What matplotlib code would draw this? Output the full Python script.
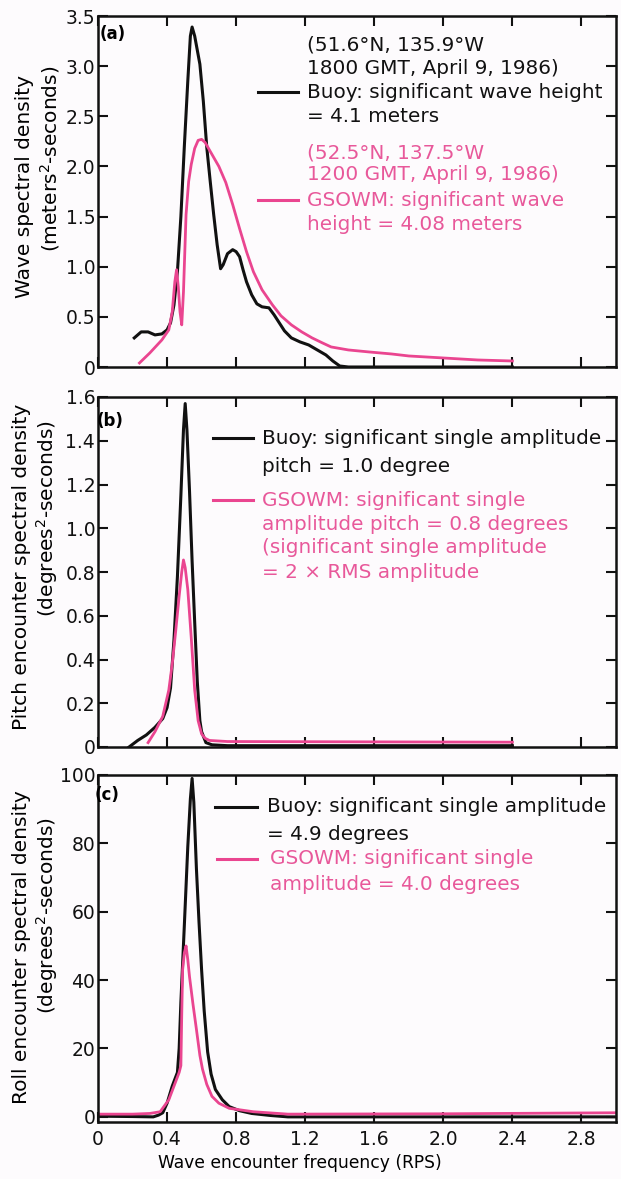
import numpy as np
import matplotlib
matplotlib.use('Agg')
import matplotlib.pyplot as plt
from matplotlib.lines import Line2D

plt.rcParams['font.family'] = ['DejaVu Sans']
plt.rcParams['font.size'] = 13

# ---- panel (a): wave spectral density ----
a_buoy_x = [0.21, 0.25, 0.29, 0.33, 0.37, 0.40, 0.42, 0.44, 0.46, 0.48, 0.50, 0.52, 0.535, 0.545,
            0.56, 0.59, 0.61, 0.63, 0.65, 0.67, 0.69, 0.71, 0.725, 0.75, 0.78, 0.80, 0.82, 0.84,
            0.86, 0.89, 0.92, 0.95, 0.99, 1.02, 1.05, 1.08, 1.12, 1.17, 1.22, 1.27, 1.32, 1.36,
            1.40, 1.45, 2.4]
a_buoy_y = [0.29, 0.35, 0.35, 0.32, 0.33, 0.37, 0.44, 0.62, 0.95, 1.5, 2.2, 2.85, 3.3, 3.39,
            3.3, 3.02, 2.65, 2.19, 1.85, 1.52, 1.22, 0.98, 1.02, 1.13, 1.17, 1.15, 1.10, 0.97,
            0.85, 0.72, 0.63, 0.60, 0.59, 0.52, 0.44, 0.36, 0.29, 0.25, 0.22, 0.17, 0.12, 0.06,
            0.01, 0.0, 0.0]
a_gsowm_x = [0.24, 0.30, 0.37, 0.41, 0.43, 0.445, 0.455, 0.465, 0.475, 0.485, 0.495, 0.51, 0.525,
             0.54, 0.56, 0.58, 0.60, 0.62, 0.66, 0.70, 0.74, 0.78, 0.82, 0.86, 0.90, 0.95, 1.01,
             1.06, 1.12, 1.18, 1.24, 1.30, 1.35, 1.45, 1.57, 1.7, 1.8, 2.0, 2.2, 2.4]
a_gsowm_y = [0.04, 0.14, 0.27, 0.37, 0.55, 0.85, 0.97, 0.80, 0.55, 0.42, 0.75, 1.52, 1.85,
             2.02, 2.18, 2.26, 2.27, 2.24, 2.12, 2.00, 1.84, 1.62, 1.38, 1.15, 0.95, 0.77, 0.62,
             0.51, 0.42, 0.35, 0.29, 0.24, 0.20, 0.17, 0.15, 0.13, 0.11, 0.09, 0.07, 0.06]

# ---- panel (b): pitch encounter spectral density ----
b_buoy_x = [0.18, 0.23, 0.28, 0.33, 0.375, 0.40, 0.42, 0.44, 0.46, 0.48, 0.495, 0.505, 0.515,
            0.53, 0.545, 0.56, 0.575, 0.59, 0.60, 0.625, 0.66, 0.75, 2.4]
b_buoy_y = [0.0, 0.03, 0.055, 0.09, 0.13, 0.18, 0.27, 0.49, 0.78, 1.15, 1.45, 1.57, 1.45,
            1.17, 0.85, 0.57, 0.30, 0.12, 0.07, 0.02, 0.01, 0.006, 0.006]
b_gsowm_x = [0.29, 0.33, 0.375, 0.41, 0.43, 0.45, 0.47, 0.485, 0.495, 0.505, 0.52, 0.54, 0.56,
             0.58, 0.60, 0.62, 0.645, 0.75, 2.4]
b_gsowm_y = [0.02, 0.07, 0.14, 0.26, 0.38, 0.53, 0.69, 0.80, 0.855, 0.82, 0.72, 0.50, 0.26,
             0.12, 0.06, 0.04, 0.03, 0.025, 0.022]

# ---- panel (c): roll encounter spectral density ----
c_buoy_x = [0.0, 0.2, 0.32, 0.35, 0.375, 0.40, 0.43, 0.46, 0.47, 0.48, 0.50, 0.52, 0.535, 0.545,
            0.555, 0.57, 0.585, 0.60, 0.615, 0.635, 0.655, 0.68, 0.72, 0.76, 0.82, 0.89, 1.0,
            1.1, 3.0]
c_buoy_y = [0.2, 0.1, 0.0, 0.5, 1.2, 4, 9, 13, 20, 33.5, 56, 79, 93, 99,
            92, 72.6, 57, 43, 31, 19, 12.5, 8, 5, 3, 1.8, 1, 0.4,
            0, 0]
c_gsowm_x = [0.0, 0.2, 0.3, 0.36, 0.41, 0.44, 0.47, 0.48, 0.485, 0.49, 0.50, 0.51, 0.52, 0.53,
             0.55, 0.57, 0.59, 0.605, 0.63, 0.66, 0.70, 0.76, 0.9, 1.1, 2.0, 3.0]
c_gsowm_y = [0.8, 0.8, 1.0, 1.5, 5, 9, 13, 15, 30, 43, 48, 50, 46, 41,
             33, 25.6, 18, 14, 9.5, 6, 4, 2.5, 1.5, 0.8, 0.9, 1.2]

x_ticks = [0, 0.4, 0.8, 1.2, 1.6, 2.0, 2.4, 2.8]
x_ticklabels = ['0', '0.4', '0.8', '1.2', '1.6', '2.0', '2.4', '2.8']
a_yticks = [0, 0.5, 1.0, 1.5, 2.0, 2.5, 3.0, 3.5]
a_yticklabels = ['0', '0.5', '1.0', '1.5', '2.0', '2.5', '3.0', '3.5']
b_yticks = [0, 0.2, 0.4, 0.6, 0.8, 1.0, 1.2, 1.4, 1.6]
b_yticklabels = ['0', '0.2', '0.4', '0.6', '0.8', '1.0', '1.2', '1.4', '1.6']
c_yticks = [0, 20, 40, 60, 80, 100]

BLACK = '#111111'
PINK = '#ea4590'
PINK_TXT = '#e8589a'
BG = '#fdfbfd'
NOTE = 14.4   # annotation text size
YLAB = 14.5

W, H = 621, 1179
fig = plt.figure(figsize=(W / 100, H / 100), dpi=100, facecolor=BG)


def fx(px):
    return px / W


def fy(py):
    return 1 - py / H


def make_ax(top, bottom):
    ax = fig.add_axes([fx(98), fy(bottom), fx(616) - fx(98), fy(top) - fy(bottom)])
    ax.set_facecolor(BG)
    for s in ax.spines.values():
        s.set_linewidth(1.8)
        s.set_color(BLACK)
    ax.tick_params(direction='in', length=7, width=1.5, top=True, right=True,
                   labelsize=13.5, colors=BLACK, pad=2)
    ax.tick_params(axis='x', pad=6)
    ax.set_xlim(0, 3.0)
    ax.set_xticks(x_ticks)
    return ax


def legend_line(x0, x1, y, color):
    fig.add_artist(Line2D([fx(x0), fx(x1)], [fy(y), fy(y)], color=color, lw=2.2,
                          transform=fig.transFigure))


def lines(x, ys, color, size=NOTE):
    for y, s in ys:
        fig.text(fx(x), fy(y), s, color=color, fontsize=size, ha='left', va='center')


# panel (a)
ax1 = make_ax(16, 367)
ax1.plot(a_buoy_x, a_buoy_y, color=BLACK, lw=2.2)
ax1.plot(a_gsowm_x, a_gsowm_y, color=PINK, lw=2.0)
ax1.set_ylim(0, 3.5)
ax1.set_yticks(a_yticks)
ax1.set_yticklabels(a_yticklabels)
ax1.set_xticklabels([])
fig.text(fx(113), fy(34), '(a)', fontsize=12, fontweight='bold', ha='center', va='center')
lines(307, [(45, '(51.6\u00b0N, 135.9\u00b0W'), (68, '1800 GMT, April 9, 1986)'),
            (92, 'Buoy: significant wave height'), (117, '= 4.1 meters')], BLACK)
lines(307, [(153, '(52.5\u00b0N, 137.5\u00b0W'), (175, '1200 GMT, April 9, 1986)'),
            (200, 'GSOWM: significant wave'), (225, 'height = 4.08 meters')], PINK_TXT)
legend_line(258, 298, 92, BLACK)
legend_line(258, 298, 200, PINK)
fig.text(fx(25), fy(186), 'Wave spectral density', rotation=90, fontsize=YLAB,
         ha='center', va='center')
fig.text(fx(50), fy(159), '(meters$^{2}$-seconds)', rotation=90, fontsize=YLAB,
         ha='center', va='center')

# panel (b)
ax2 = make_ax(397, 747)
ax2.plot(b_buoy_x, b_buoy_y, color=BLACK, lw=2.2)
ax2.plot(b_gsowm_x, b_gsowm_y, color=PINK, lw=2.0)
ax2.set_ylim(0, 1.6)
ax2.set_yticks(b_yticks)
ax2.set_yticklabels(b_yticklabels)
ax2.set_xticklabels([])
fig.text(fx(110), fy(421), '(b)', fontsize=12, fontweight='bold', ha='center', va='center')
lines(262, [(438, 'Buoy: significant single amplitude'), (466, 'pitch = 1.0 degree')], BLACK)
lines(262, [(500, 'GSOWM: significant single'), (525, 'amplitude pitch = 0.8 degrees'),
            (548, '(significant single amplitude'), (572, '= 2 \u00d7 RMS amplitude')], PINK_TXT)
legend_line(213, 253, 438, BLACK)
legend_line(213, 253, 500, PINK)
fig.text(fx(22), fy(567), 'Pitch encounter spectral density', rotation=90, fontsize=YLAB,
         ha='center', va='center')
fig.text(fx(47), fy(519), '(degrees$^{2}$-seconds)', rotation=90, fontsize=YLAB,
         ha='center', va='center')

# panel (c)
ax3 = make_ax(775, 1122)
ax3.plot(c_buoy_x, c_buoy_y, color=BLACK, lw=2.2)
ax3.plot(c_gsowm_x, c_gsowm_y, color=PINK, lw=2.0)
ax3.set_ylim(-1.5, 100)
ax3.set_yticks(c_yticks)
ax3.set_xticklabels(x_ticklabels)
fig.text(fx(107), fy(795), '(c)', fontsize=12, fontweight='bold', ha='center', va='center')
lines(267, [(807, 'Buoy: significant single amplitude'), (834, '= 4.9 degrees')], BLACK)
lines(270, [(859, 'GSOWM: significant single'), (885, 'amplitude = 4.0 degrees')], PINK_TXT)
legend_line(215, 257, 807, BLACK)
legend_line(217, 257, 859, PINK)
fig.text(fx(22), fy(947), 'Roll encounter spectral density', rotation=90, fontsize=YLAB,
         ha='center', va='center')
fig.text(fx(47), fy(916), '(degrees$^{2}$-seconds)', rotation=90, fontsize=YLAB,
         ha='center', va='center')
fig.text(fx(300), fy(1163), 'Wave encounter frequency (RPS)', fontsize=12.3,
         ha='center', va='center')

fig.savefig('out.png', dpi=100, facecolor=BG)
